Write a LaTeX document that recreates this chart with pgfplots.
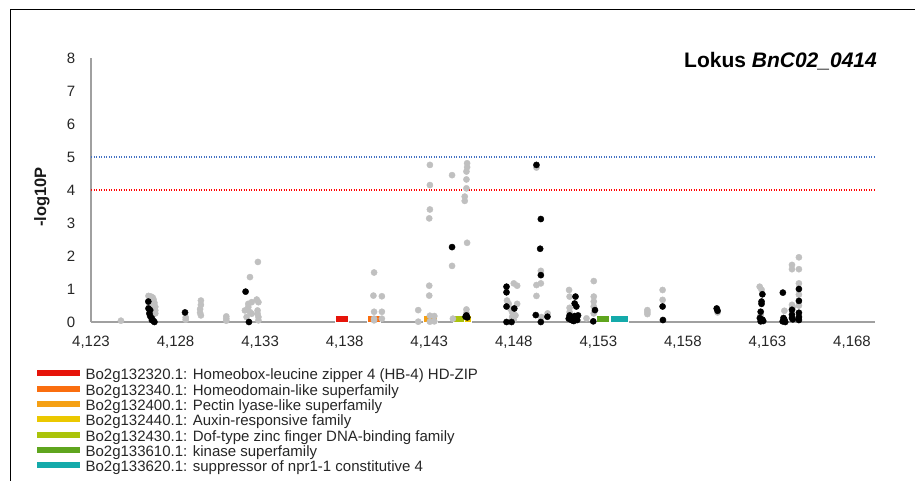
\documentclass[border=0pt]{standalone}
\usepackage{fontspec}
\setmainfont{Liberation Sans}
\usepackage{pgfplots}
\pgfplotsset{compat=1.18}
\usepackage{pgfplotstable}

\definecolor{gHB}{RGB}{230,20,10}
\definecolor{gHD}{RGB}{250,110,15}
\definecolor{gPL}{RGB}{245,160,20}
\definecolor{gAR}{RGB}{235,200,0}
\definecolor{gDof}{RGB}{170,195,10}
\definecolor{gKin}{RGB}{95,165,30}
\definecolor{gSnc}{RGB}{20,170,170}
\definecolor{dotgrey}{RGB}{192,192,192}
\definecolor{axisgrey}{RGB}{160,160,160}
\definecolor{thrblue}{RGB}{68,114,196}
\definecolor{thrred}{RGB}{255,0,0}

% SNP positions (kb) and -log10(P)
\pgfplotstableread{
x y
4124.77 0.04
4126.40 0.79
4126.55 0.77
4126.65 0.74
4126.70 0.68
4126.75 0.58
4126.80 0.46
4126.80 0.35
4126.80 0.26
4126.60 0.55
4126.45 0.50
4128.60 0.14
4128.60 0.07
4129.50 0.65
4129.50 0.52
4129.45 0.39
4129.45 0.28
4129.50 0.20
4131.00 0.17
4131.00 0.10
4131.00 0.04
4132.87 1.82
4132.40 1.36
4132.30 0.55
4132.30 0.45
4132.10 0.35
4132.50 0.60
4132.50 0.25
4132.80 0.68
4132.90 0.60
4132.85 0.35
4132.85 0.25
4132.90 0.15
4132.90 0.05
4132.20 0.15
4132.40 0.30
4139.74 1.50
4139.70 0.80
4140.20 0.78
4139.74 0.31
4140.20 0.31
4139.74 0.10
4139.74 0.05
4140.20 0.10
4142.35 0.36
4142.35 0.01
4143.04 4.76
4143.04 4.15
4143.04 3.41
4143.00 3.14
4143.00 1.10
4143.00 0.80
4143.04 0.19
4143.04 0.01
4143.30 0.18
4143.30 0.02
4144.35 4.45
4144.35 1.70
4144.40 0.10
4145.24 4.81
4145.24 4.69
4145.20 4.56
4145.20 4.32
4145.20 4.05
4145.10 3.80
4145.10 3.67
4145.24 2.40
4145.20 0.38
4145.20 0.27
4148.00 1.17
4148.20 1.10
4147.60 0.65
4147.70 0.55
4147.80 0.40
4147.90 0.30
4148.00 0.25
4148.10 0.20
4147.90 0.15
4148.00 0.07
4148.20 0.55
4149.34 4.68
4149.60 1.55
4149.34 1.12
4149.60 1.17
4149.34 0.79
4149.63 0.15
4150.00 0.26
4151.27 0.97
4151.30 0.77
4151.30 0.43
4151.30 0.30
4152.30 0.11
4152.73 1.24
4152.73 0.77
4152.73 0.62
4152.73 0.47
4152.73 0.26
4155.90 0.36
4155.90 0.30
4155.90 0.24
4156.80 0.97
4156.80 0.67
4160.05 0.29
4162.54 1.07
4162.65 0.98
4162.60 0.21
4164.00 0.34
4164.45 1.73
4164.45 1.60
4164.45 0.52
4164.50 0.45
4164.86 1.96
4164.86 1.60
4164.86 1.17
4164.86 0.83
4164.86 0.50
4164.86 0.17
}\greysnps

\pgfplotstableread{
x y
4126.39 0.62
4126.40 0.41
4126.50 0.36
4126.45 0.26
4126.50 0.18
4126.60 0.11
4126.60 0.06
4126.70 0.03
4126.75 0.00
4128.56 0.29
4132.14 0.92
4132.34 0.00
4144.35 2.27
4145.20 0.20
4145.15 0.16
4145.25 0.14
4147.57 1.07
4147.57 0.90
4147.57 0.47
4147.57 0.00
4147.87 0.00
4148.03 0.41
4149.34 4.76
4149.60 3.12
4149.56 2.22
4149.60 1.42
4149.30 0.21
4149.60 0.00
4149.99 0.16
4151.65 0.77
4151.60 0.56
4151.70 0.47
4151.30 0.20
4151.40 0.15
4151.50 0.10
4151.60 0.18
4151.70 0.12
4151.80 0.20
4151.45 0.05
4151.35 0.08
4151.55 0.03
4151.75 0.06
4151.25 0.10
4152.80 0.36
4152.70 0.02
4156.80 0.47
4156.82 0.06
4160.00 0.41
4160.05 0.34
4162.70 0.84
4162.65 0.62
4162.65 0.55
4162.60 0.31
4162.55 0.12
4162.70 0.07
4162.60 0.02
4162.75 0.03
4163.91 0.89
4163.95 0.12
4164.00 0.07
4163.90 0.02
4164.05 0.00
4164.45 0.37
4164.45 0.22
4164.45 0.12
4164.50 0.08
4164.86 1.00
4164.86 0.64
4164.86 0.28
4164.86 0.15
4164.86 0.06
}\blacksnps

\pgfplotsset{
  genebar/.style={draw=white, line width=0.6pt, fill=#1,
    legend image code/.code={
      \fill[#1] (0pt,1.0pt) rectangle (42pt,6.0pt);
      \path (0pt,0pt) (48pt,0pt);
    }},
}

\begin{document}
\begin{tikzpicture}
\useasboundingbox (0,0) rectangle (915pt,481pt);
\draw[line width=1pt] (10pt,0pt) -- (10pt,471pt) -- (915pt,471pt);

\begin{axis}[
  at={(91pt,159pt)}, anchor=south west,
  scale only axis, width=784pt, height=264pt,
  xmin=4123, xmax=4169.36, ymin=0, ymax=8,
  axis lines=left,
  axis line style={-, draw=axisgrey, line width=1.3pt},
  major tick length=0pt,
  xtick={4123,4128,...,4168},
  ytick={0,1,...,8},
  /pgf/number format/.cd, 1000 sep={,}, assume math mode=true,
  /pgfplots/.cd,
  tick label style={font=\fontsize{15}{18}\selectfont, text=black!85},
  xticklabel style={anchor=north, inner sep=0pt, yshift=-14pt},
  yticklabel style={anchor=east, inner sep=0pt, xshift=-15.5pt},
  ylabel={-log10P},
  ylabel style={at={(axis description cs:-0.0625,0.473)}, anchor=center,
    font=\fontsize{16.5}{18}\selectfont\bfseries, text=black!90},
  clip=false,
  legend cell align=left,
  legend style={at={(axis description cs:-0.0689,-0.178)}, anchor=north west,
    draw=none, fill=none, inner sep=0pt, outer sep=0pt,
    row sep=0pt, column sep=0pt,
    font=\fontsize{15}{15}\selectfont, text=black!85,
    nodes={inner sep=0pt, text height=11pt, text depth=4.3pt}},
]
% gene models
\addplot[genebar=gHB] coordinates {(4137.46,0) (4137.46,0.2) (4138.20,0.2) (4138.20,0)} \closedcycle;
\addlegendentry{Bo2g132320.1: Homeobox-leucine zipper 4 (HB-4) HD-ZIP}
\addplot[genebar=gHD] coordinates {(4139.33,0) (4139.33,0.2) (4140.12,0.2) (4140.12,0)} \closedcycle;
\addlegendentry{Bo2g132340.1: Homeodomain-like superfamily}
\addplot[genebar=gPL] coordinates {(4142.64,0) (4142.64,0.2) (4143.49,0.2) (4143.49,0)} \closedcycle;
\addlegendentry{Bo2g132400.1: Pectin lyase-like superfamily}
\addplot[genebar=gAR] coordinates {(4145.05,0) (4145.05,0.2) (4145.50,0.2) (4145.50,0)} \closedcycle;
\addlegendentry{Bo2g132440.1: Auxin-responsive family}
\addplot[genebar=gDof] coordinates {(4144.40,0) (4144.40,0.2) (4145.05,0.2) (4145.05,0)} \closedcycle;
\addlegendentry{Bo2g132430.1: Dof-type zinc finger DNA-binding family}
\addplot[genebar=gKin] coordinates {(4152.89,0) (4152.89,0.2) (4153.64,0.2) (4153.64,0)} \closedcycle;
\addlegendentry{Bo2g133610.1: kinase superfamily}
\addplot[genebar=gSnc] coordinates {(4153.73,0) (4153.73,0.2) (4154.76,0.2) (4154.76,0)} \closedcycle;
\addlegendentry{Bo2g133620.1: suppressor of npr1-1 constitutive 4}

% significance thresholds
\addplot[forget plot, thrblue, line width=1.1pt, dash pattern=on 1.1pt off 1.4pt]
  coordinates {(4123,5) (4169.36,5)};
\addplot[forget plot, thrred, line width=1.1pt, dash pattern=on 1.1pt off 1.4pt]
  coordinates {(4123,4) (4169.36,4)};

% markers
\addplot[forget plot, only marks, mark=*, mark size=3.1pt,
  mark options={draw=dotgrey, fill=dotgrey}] table {\greysnps};
\addplot[forget plot, only marks, mark=*, mark size=3.1pt,
  mark options={draw=black, fill=black}] table {\blacksnps};
\end{axis}

\node[anchor=base east, inner sep=0pt, font=\fontsize{21}{24}\selectfont\bfseries]
  at (877pt,413pt) {Lokus \textit{BnC02\_0414}};
\end{tikzpicture}
\end{document}
